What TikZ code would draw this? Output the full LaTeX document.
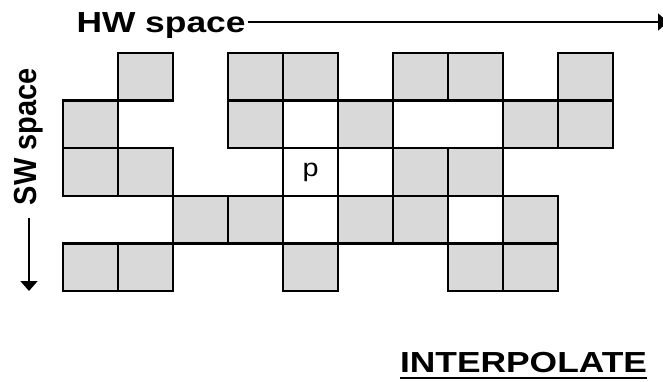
\documentclass[tikz,border=0pt]{standalone}
\usepackage{fontspec}
\setmainfont{Liberation Sans}
\usetikzlibrary{arrows.meta}
\begin{document}
\begin{tikzpicture}[x=1pt,y=-1pt,
  cellbox/.style={draw=black,line width=2.6pt,minimum width=55pt,minimum height=47.6pt,inner sep=0pt,outer sep=0pt},
  graycell/.style={cellbox,fill=black!15},
  whitecell/.style={cellbox,fill=white},
  lbl/.style={inner sep=0pt,outer sep=0pt,font=\fontsize{29}{30}\selectfont\bfseries},
  axisarrow/.style={line width=1.8pt,-{Triangle[length=10pt,width=17pt]}}]
\useasboundingbox (0,0) rectangle (663,382);
% white outlined cells
\foreach \c/\r in {4/1,4/2,5/2,4/3,7/3}
  \node[whitecell] (c-\c-\r) at ({63+55*\c+27.5},{53+47.6*\r+23.8}) {};
% gray cells
\foreach \c/\r in {1/0,3/0,4/0,6/0,7/0,9/0,
                   0/1,3/1,5/1,8/1,9/1,
                   0/2,1/2,6/2,7/2,
                   2/3,3/3,5/3,6/3,8/3,
                   0/4,1/4,4/4,7/4,8/4}
  \node[graycell] (c-\c-\r) at ({63+55*\c+27.5},{53+47.6*\r+23.8}) {};
% p
\node[inner sep=0pt,font=\fontsize{25}{26}\selectfont,xscale=1.15] (p) at (c-4-2.center) {p};
% HW space
\node[lbl,anchor=base west,xscale=1.22] (hw) at (76.5,33) {HW space};
\coordinate (hwend) at (668,22);
\draw[axisarrow] ([xshift=2pt]hw.east |- hwend) -- (hwend);
% SW space
\node[lbl,anchor=base west,xscale=1.1,rotate=90] (sw) at (36,205) {SW space};
\coordinate (swstart) at (29,218);
\coordinate (swend) at (29,291);
\draw[axisarrow] (swstart) -- (swend);
% INTERPOLATE
\node[lbl,anchor=base west,xscale=1.22] (ip) at (400,372) {INTERPOLATE};
\draw[line width=2pt] ([yshift=-5.5pt]ip.base west) -- ([yshift=-5.5pt]ip.base east);
\end{tikzpicture}
\end{document}
